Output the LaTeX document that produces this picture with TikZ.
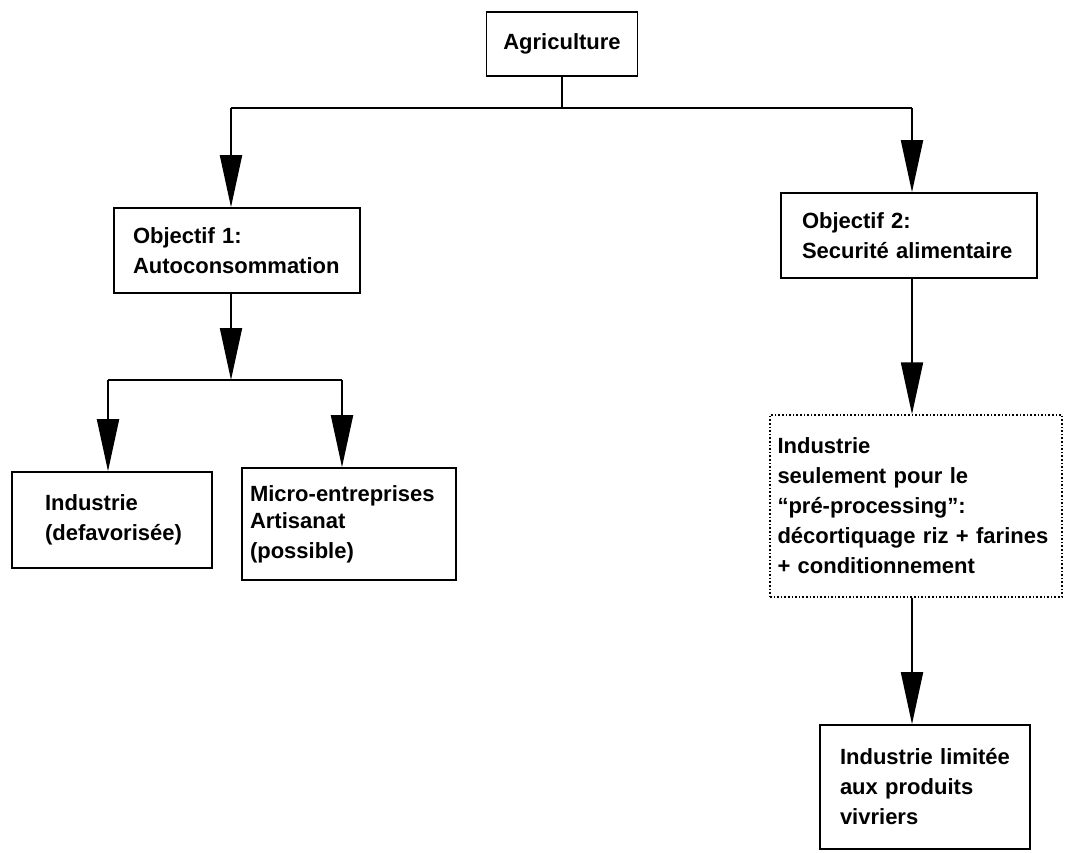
\documentclass[tikz,border=0pt]{standalone}
\usepackage{fontspec}
\setmainfont{Liberation Sans}
\usetikzlibrary{arrows.meta}
\begin{document}
\begin{tikzpicture}[x=1pt,y=-1pt,
  box/.style={draw, line width=1.6pt, rectangle, inner sep=0pt, align=left,
    font=\bfseries\fontsize{22}{30}\selectfont},
  ln/.style={line width=1.9pt},
  arr/.style={line width=1.9pt, -{Triangle[length=52pt,width=22pt]}}]
\useasboundingbox (0,0) rectangle (1065,852);

% boxes
\node[box, align=center, minimum width=151pt, minimum height=64pt] (agri) at (562,44) {Agriculture};
\node[box, minimum width=246pt, minimum height=85pt, text width=208pt] (obj1) at (237,250.5)
  {Objectif 1:\\Autoconsommation};
\node[box, minimum width=256pt, minimum height=85pt, text width=214pt] (obj2) at (909,235.5)
  {\fontsize{22}{26}\selectfont Objectif 2:\\Securité alimentaire};
\node[box, minimum width=200pt, minimum height=96pt, text width=134pt] (ind1) at (112,520)
  {Industrie\\(defavorisée)};
\node[box, minimum width=214pt, minimum height=112pt, text width=198pt] (micro) at (349,524)
  {\fontsize{22}{27}\selectfont Micro-entreprises\\Artisanat\\(possible)};
\node[box, dotted, line width=1.4pt, minimum width=292pt, minimum height=182pt, text width=277pt] (proc) at (916,506)
  {Industrie\\seulement pour le\\“pré-processing”:\\décortiquage riz + farines\\+ conditionnement};
\node[box, minimum width=210pt, minimum height=124pt, text width=170pt] (lim) at (925,787)
  {Industrie limitée\\aux produits\\vivriers};

% junctions of the connectors
\coordinate (j1) at (231,108);
\coordinate (j2) at (912,108);
\coordinate (j3) at (108,380);
\coordinate (j4) at (342,380);

% connectors
\draw[ln] (agri.south) -- (agri.south |- j1);
\draw[ln] (j1) -- (j2);
\draw[arr] (j1) -- (j1 |- obj1.north);
\draw[arr] (j2) -- (j2 |- obj2.north);
\draw[arr] (obj1.south -| j1) -- (j1 |- j3);
\draw[ln] (j3) -- (j4);
\draw[arr] (j3) -- (j3 |- ind1.north);
\draw[arr] (j4) -- (j4 |- micro.north);
\draw[arr] (obj2.south -| j2) -- (j2 |- proc.north);
\draw[arr] (proc.south -| j2) -- (j2 |- lim.north);
\end{tikzpicture}
\end{document}
